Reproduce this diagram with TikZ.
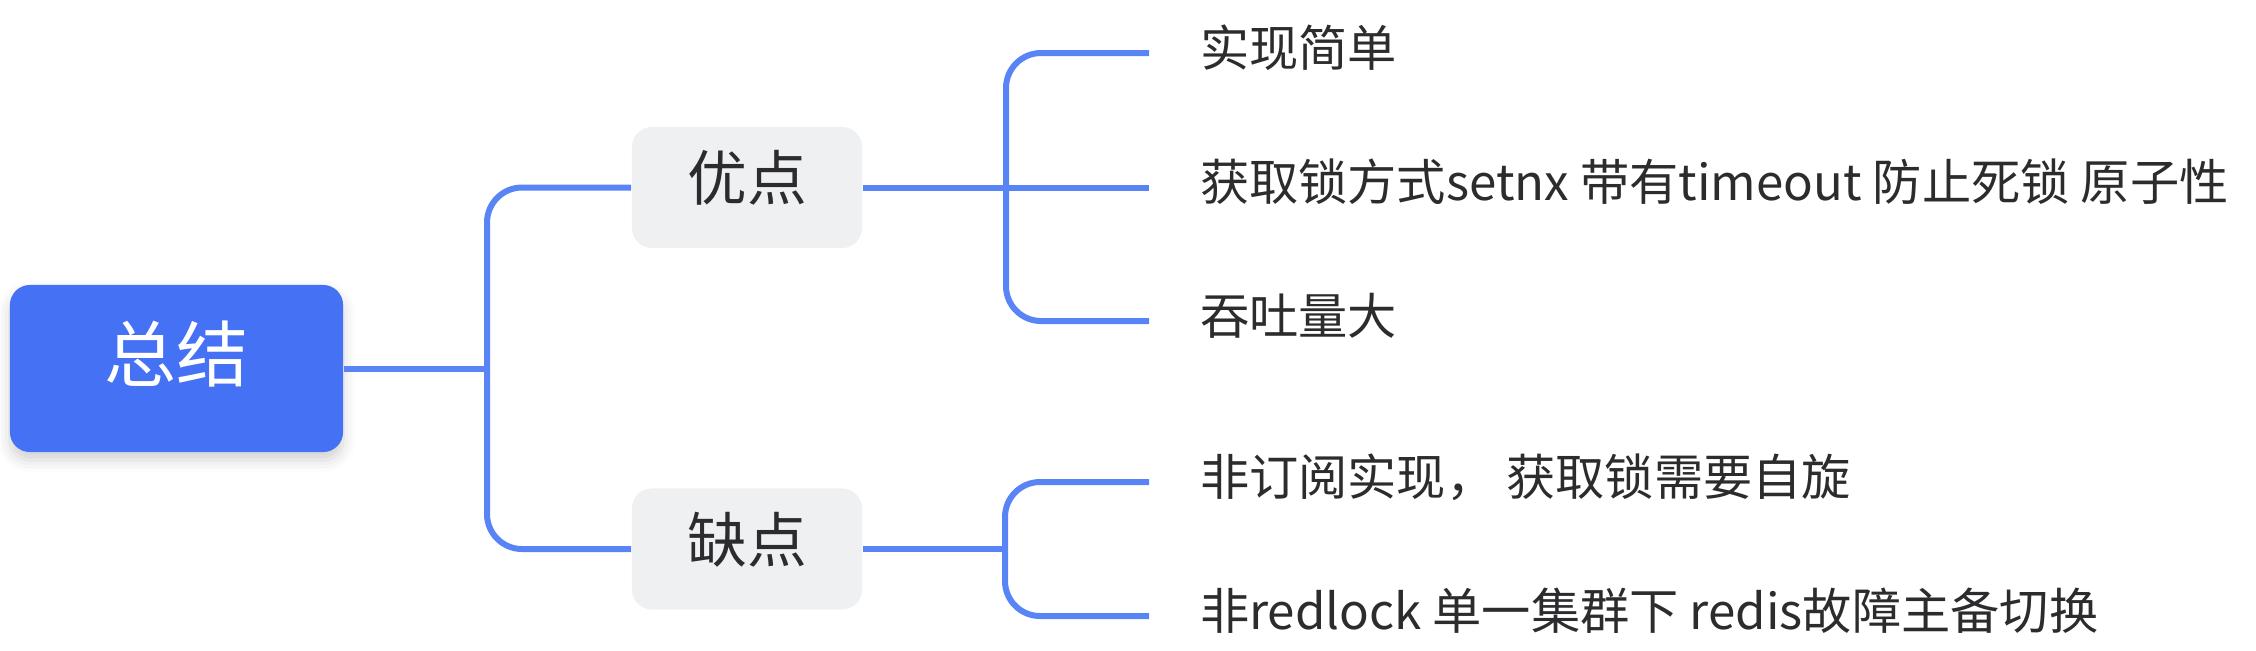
\documentclass[tikz,border=0pt]{standalone}
\usepackage{fontspec}
\setmainfont{Noto Sans CJK SC}
\usepackage{xcolor}
\definecolor{rootblue}{RGB}{69,113,245}
\definecolor{linkblue}{RGB}{88,132,246}
\definecolor{boxgray}{RGB}{239,240,242}
\definecolor{inkgray}{RGB}{44,44,46}
\usepackage{tikz}
\usetikzlibrary{shadows.blur}

\begin{document}
\begin{tikzpicture}[x=0.01cm, y=-0.01cm,
    rootbox/.style={fill=rootblue, text=white, rounded corners=0.2cm, minimum width=3.33cm, minimum height=1.67cm,
        font=\fontsize{20.5}{24}\selectfont, blur shadow={shadow xshift=0pt, shadow yshift=-0.08cm, shadow blur radius=0.12cm, shadow opacity=18}},
    midbox/.style={fill=boxgray, text=inkgray, rounded corners=0.2cm, minimum width=2.3cm, minimum height=1.21cm,
        font=\fontsize{17}{20}\selectfont},
    leaf/.style={anchor=west, text=inkgray, inner xsep=0.51cm, inner ysep=0pt, outer sep=0pt,
        font=\fontsize{14}{17}\selectfont},
    link/.style={draw=linkblue, line width=0.06cm},
    every node/.append style={text height=0.88em, text depth=0.12em}]
    \useasboundingbox (0,0) rectangle (2256,650);
    \node[rootbox] (root) at (176.5,368.5) {总结};
    \node[midbox] (pro) at (747,187.5) {优点};
    \node[midbox] (con) at (747,549) {缺点};
    \node[leaf] (p1) at (1149,53) {实现简单};
    \node[leaf] (p2) at (1149,187.5) {获取锁方式setnx 带有timeout 防止死锁 原子性};
    \node[leaf] (p3) at (1149,321) {吞吐量大};
    \node[leaf] (c1) at (1149,482) {非订阅实现， 获取锁需要自旋};
    \node[leaf] (c2) at (1149,616) {非redlock 单一集群下 redis故障主备切换};
    \coordinate (rootfork) at (487,368.5);
    \coordinate (profork) at (1006,187.5);
    \coordinate (confork) at (1005,549);
    \draw[link] (root.east) -- (rootfork);
    \draw[link, rounded corners=0.35cm] (pro.west) -| (rootfork) |- (con.west);
    \draw[link] (pro.east) -- (p2.west);
    \draw[link, rounded corners=0.35cm] (p1.west) -| (profork) |- (p3.west);
    \draw[link] (con.east) -- (confork);
    \draw[link, rounded corners=0.35cm] (c1.west) -| (confork) |- (c2.west);
\end{tikzpicture}
\end{document}
